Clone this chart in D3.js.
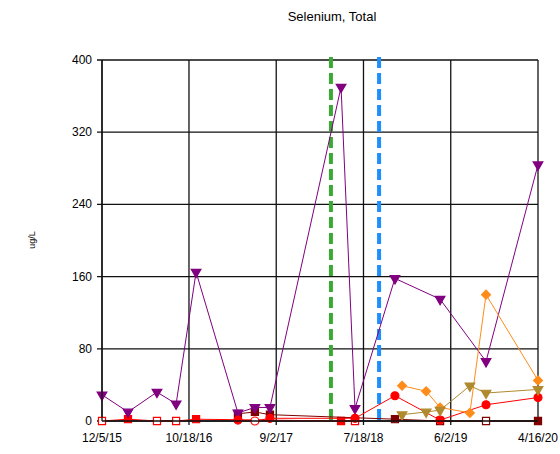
<!DOCTYPE html>
<html>
<head>
<meta charset="utf-8">
<script src="https://cdn.jsdelivr.net/npm/d3@7"></script>
<style>
  body { margin: 0; background: #fff; }
  svg { font-family: "Liberation Sans", Arial, sans-serif; }
</style>
</head>
<body>
<div id="chart"></div>
<script>
// sample dates (m/d/yy)
var sampleDates = ["12/5/15", "3/9/16", "6/23/16", "9/1/16", "11/13/16", "4/15/17", "6/16/17",
    "8/10/17", "4/27/18", "6/17/18", "11/10/18", "12/6/18", "3/4/19", "4/24/19", "8/11/19",
    "10/9/19", "4/16/20"];

// values per date, null = no sample
var purpleVals = [29, 10, 32, 19, 165, 9, 15, 15, 370, 14, 158, null, null, 135, null, 66, 284];
var redSqVals  = [0, 2, 0, 0, 2, null, null, null, 0, 0, null, null, null, null, null, null, null];
var redSqND    = [1, 0, 1, 1, 0, 0, 0, 0, 0, 1, 0, 0, 0, 0, 0, 0, 0];
var maroonVals = [null, null, null, null, null, 8, 10, 7, null, null, 2, null, null, 0, null, 0, 0];
var maroonND   = [0, 0, 0, 0, 0, 0, 0, 0, 0, 0, 0, 0, 0, 1, 0, 1, 0];
var redCirVals = [null, null, null, null, null, 1, 0, 3, null, 3, 28, null, null, 1, null, 18, 26];
var redCirND   = [0, 0, 0, 0, 0, 0, 1, 0, 0, 0, 0, 0, 0, 0, 0, 0, 0];
var orangeVals = [null, null, null, null, null, null, null, null, null, null, null, 39, 33, 15, 9, 140, 45];
var tanVals    = [null, null, null, null, null, null, null, null, null, null, null, 7, 10, 12, 39, 31, 35];

// axis ticks
var xTickLabels = ["12/5/15", "10/18/16", "9/2/17", "7/18/18", "6/2/19", "4/16/20"];
var yTicks = [0, 80, 160, 240, 320, 400];

// event lines
var greenDate = "3/21/18";
var blueDate = "9/13/18";

var parse = d3.timeParse("%m/%d/%y");

var svg = d3.select("#chart").append("svg")
    .attr("width", 560)
    .attr("height", 454);

var x = d3.scaleTime()
    .domain([parse("12/5/15"), parse("4/16/20")])
    .range([102, 538]);
var y = d3.scaleLinear()
    .domain([0, 400])
    .range([421, 60]);

// title
svg.append("text")
    .attr("x", 332)
    .attr("y", 21)
    .attr("text-anchor", "middle")
    .attr("font-size", 13)
    .text("Selenium, Total");

// y axis title
svg.append("text")
    .attr("transform", "translate(35,240) rotate(-90)")
    .attr("text-anchor", "middle")
    .attr("font-size", 9)
    .text("ug/L");

// gridlines
svg.selectAll(".hgrid")
    .data(yTicks)
    .join("line")
    .attr("class", "hgrid")
    .attr("x1", 97)
    .attr("x2", 538)
    .attr("y1", d => y(d))
    .attr("y2", d => y(d))
    .attr("stroke", "#111")
    .attr("stroke-width", 1.3);

svg.selectAll(".vgrid")
    .data(xTickLabels)
    .join("line")
    .attr("class", "vgrid")
    .attr("x1", d => x(parse(d)))
    .attr("x2", d => x(parse(d)))
    .attr("y1", 60)
    .attr("y2", 425)
    .attr("stroke", "#111")
    .attr("stroke-width", 1.3);

// tick labels
svg.selectAll(".ylab")
    .data(yTicks)
    .join("text")
    .attr("class", "ylab")
    .attr("x", 92)
    .attr("y", d => y(d) + 4)
    .attr("text-anchor", "end")
    .attr("font-size", 12)
    .text(d => d);

svg.selectAll(".xlab")
    .data(xTickLabels)
    .join("text")
    .attr("class", "xlab")
    .attr("x", d => x(parse(d)))
    .attr("y", 442)
    .attr("text-anchor", "middle")
    .attr("font-size", 12)
    .text(d => d);

// dashed event lines
[[greenDate, "#3aaa35"], [blueDate, "#1e8fff"]].forEach(function (e) {
    svg.append("line")
        .attr("x1", x(parse(e[0])))
        .attr("x2", x(parse(e[0])))
        .attr("y1", 57)
        .attr("y2", 423)
        .attr("stroke", e[1])
        .attr("stroke-width", 4)
        .attr("stroke-dasharray", "11,5");
});

// build points for a series
function points(vals, nd) {
    var pts = [];
    vals.forEach(function (v, i) {
        if (v != null) pts.push({ date: parse(sampleDates[i]), value: v, nd: nd ? nd[i] : 0 });
    });
    return pts;
}

var line = d3.line()
    .x(d => x(d.date))
    .y(d => y(d.value));

function drawSeries(vals, nd, color, shape, size) {
    var pts = points(vals, nd);
    var g = svg.append("g");
    g.append("path")
        .attr("d", line(pts))
        .attr("fill", "none")
        .attr("stroke", color)
        .attr("stroke-width", 1);
    var rot = shape === "tri" ? " rotate(180)" : shape === "dia" ? " rotate(45)" : "";
    var type = shape === "tri" ? d3.symbolTriangle : shape === "circle" ? d3.symbolCircle : d3.symbolSquare;
    g.selectAll("path.mk")
        .data(pts)
        .join("path")
        .attr("class", "mk")
        .attr("transform", d => "translate(" + x(d.date) + "," + y(d.value) + ")" + rot)
        .attr("d", d3.symbol().type(type).size(size))
        .attr("fill", d => d.nd ? "#fff" : color)
        .attr("stroke", color)
        .attr("stroke-width", 1.2);
}

drawSeries(redSqVals, redSqND, "#ff0000", "sq", 50);
drawSeries(maroonVals, maroonND, "#800000", "sq", 50);
drawSeries(purpleVals, null, "#800080", "tri", 40);
drawSeries(redCirVals, redCirND, "#ff0000", "circle", 50);
drawSeries(orangeVals, null, "#ff8c1a", "dia", 40);
drawSeries(tanVals, null, "#b08a2e", "tri", 40);

// plot frame (left axis + bottom axis)
svg.append("line").attr("x1", 102).attr("x2", 102).attr("y1", 60).attr("y2", 421)
    .attr("stroke", "#111").attr("stroke-width", 1.3);
svg.append("line").attr("x1", 102).attr("x2", 538).attr("y1", 421).attr("y2", 421)
    .attr("stroke", "#111").attr("stroke-width", 1.3);
</script>
</body>
</html>
